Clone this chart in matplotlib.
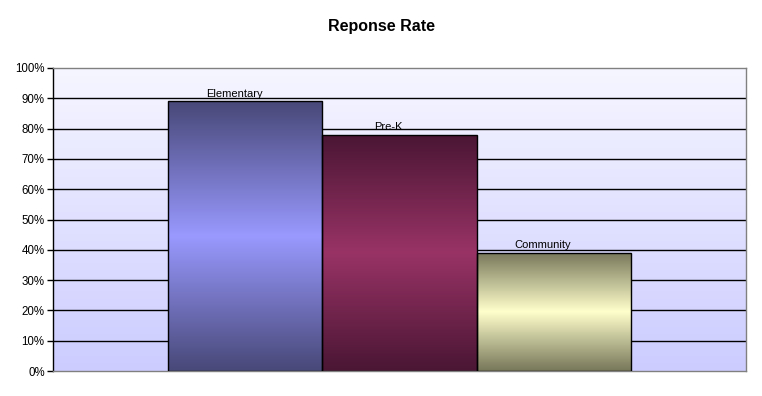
import numpy as np
import matplotlib.pyplot as plt
from matplotlib.colors import LinearSegmentedColormap

plt.rcParams['font.family'] = ['Liberation Sans', 'DejaVu Sans']

# Data
series = ["Elementary", "Pre-K", "Community"]
rates = [0.89, 0.78, 0.39]
yticks = np.arange(0, 1.01, 0.1)
ytick_labels = [f"{int(round(t * 100))}%" for t in yticks]

# gradient colours per bar: (edge colour, middle colour)
bar_grads = [("#484878", "#9999ff"), ("#4a1634", "#993366"), ("#77775a", "#ffffcc")]

fig = plt.figure(figsize=(7.62, 3.96), dpi=100)
fig.patch.set_facecolor("white")
ax = fig.add_axes([53 / 762, 25 / 396, 693 / 762, 303 / 396])

x = np.arange(len(series)) - 1.0
width = 1.0
ax.set_xlim(-2.247, 2.247)
ax.set_ylim(0, 1.0)

# background gradient of the plot area
bg = LinearSegmentedColormap.from_list("bg", ["#ccccff", "#f6f6ff"])
ax.imshow(np.linspace(0, 1, 256).reshape(-1, 1), cmap=bg, aspect="auto",
          extent=(-2.247, 2.247, 0, 1.0), origin="lower", zorder=0)

# gridlines
for t in yticks[1:-1]:
    ax.axhline(t, color="black", lw=1.0, zorder=1)

bars = ax.bar(x, rates, width=width, facecolor="none", edgecolor="black",
              lw=1.0, zorder=3)

for i, (b, (dark, light)) in enumerate(zip(bars, bar_grads)):
    cmap = LinearSegmentedColormap.from_list("g", [dark, light, dark])
    x0, y0 = b.get_x(), b.get_y()
    im = ax.imshow(np.linspace(0, 1, 256).reshape(-1, 1), cmap=cmap,
                   aspect="auto", origin="lower",
                   extent=(x0, x0 + b.get_width(), y0, y0 + b.get_height()),
                   zorder=2)
    im.set_clip_path(b)
    ax.text(x0 + b.get_width() / 2 - 0.07, b.get_height() + 0.008,
            series[i], ha="center", va="bottom", fontsize=8, zorder=4)

ax.set_yticks(yticks)
ax.set_yticklabels(ytick_labels, fontsize=8.3)
ax.set_xticks([])
ax.tick_params(axis="y", direction="out", length=4, width=1, pad=2,
               color="black")

for s in ["top", "right", "bottom"]:
    ax.spines[s].set_color("#808080")
    ax.spines[s].set_linewidth(1.0)
ax.spines["left"].set_color("black")
ax.spines["left"].set_linewidth(1.0)

fig.text(0.5, 1 - 26 / 396, "Reponse Rate", ha="center", va="center",
         fontsize=11.5, fontweight="bold")

fig.savefig("out.png", dpi=100)
